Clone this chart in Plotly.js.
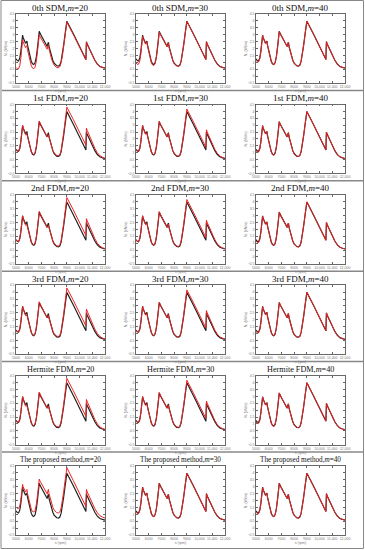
<!DOCTYPE html>
<html>
<head>
<meta charset="utf-8">
<script src="https://cdn.plot.ly/plotly-3.0.1.min.js"></script>
<style>html,body{margin:0;padding:0;background:#fff;}#chart{width:365px;height:550px;}</style>
</head>
<body>
<div id="chart"></div>
<script>
const rowNames = ["0th SDM", "1st FDM", "2nd FDM", "3rd FDM", "Hermite FDM", "The proposed method"];
const mValues = [20, 30, 40];
const xTickVals = [5000, 6000, 7000, 8000, 9000, 10000, 11000, 12000];
const xTickText = ["5000", "6000", "7000", "8000", "9000", "10,000", "11,000", "12,000"];

const xRpm = [5000,5100,5200,5300,5380,5450,5520,5560,5650,5750,5800,5860,5900,6000,6100,6200,6300,6400,6500,6600,6700,6780,6830,6900,7000,7200,7400,7450,7500,7550,7600,7700,7800,7900,8000,8200,8340,8450,8550,8650,8750,8850,8950,9000,9500,10000,10500,10520,10540,10600,10800,11000,11200,11400,11600,11800,12000];

const yReference = [1.25,1.13,1.10,1.32,1.79,2.38,2.97,2.80,2.61,2.38,2.45,2.54,2.26,1.79,1.39,1.08,0.89,0.84,0.96,1.39,2.14,2.80,3.25,3.08,2.90,2.57,2.19,2.14,2.33,2.45,2.14,1.72,1.39,1.13,0.94,0.75,0.73,0.80,1.08,1.55,2.26,2.97,3.67,3.98,3.08,2.14,1.20,1.91,2.49,2.33,1.91,1.50,1.15,0.87,0.70,0.63,0.58];

const red0th20 = [0.63,0.53,0.52,0.77,1.29,1.96,2.64,2.48,2.29,2.06,2.13,2.21,1.93,1.46,1.07,0.76,0.58,0.53,0.65,1.09,1.86,2.54,3.01,2.85,2.68,2.36,1.99,1.95,2.14,2.27,1.96,1.55,1.23,0.98,0.80,0.62,0.61,0.69,0.98,1.46,2.18,2.89,3.60,3.91,3.03,2.10,1.17,1.88,2.46,2.30,1.89,1.48,1.14,0.86,0.70,0.63,0.58];

const red0th30 = [0.95,0.85,0.86,1.10,1.60,2.24,2.88,2.73,2.55,2.32,2.40,2.49,2.21,1.73,1.32,1.00,0.81,0.77,0.89,1.33,2.09,2.76,3.21,3.05,2.87,2.54,2.16,2.11,2.30,2.42,2.11,1.70,1.37,1.11,0.92,0.73,0.71,0.78,1.06,1.54,2.25,2.96,3.66,3.97,3.07,2.14,1.20,1.91,2.49,2.33,1.91,1.50,1.15,0.87,0.70,0.63,0.58];

const redClose = [1.15,1.05,1.04,1.27,1.75,2.35,2.95,2.79,2.60,2.37,2.44,2.53,2.25,1.78,1.38,1.06,0.87,0.82,0.95,1.38,2.13,2.79,3.24,3.08,2.90,2.57,2.19,2.14,2.33,2.45,2.14,1.72,1.39,1.13,0.94,0.75,0.73,0.80,1.08,1.55,2.26,2.97,3.67,3.99,3.09,2.15,1.21,1.92,2.50,2.34,1.92,1.50,1.15,0.87,0.70,0.63,0.58];

const redFdm20 = [1.22,1.12,1.10,1.33,1.80,2.40,2.98,2.80,2.55,2.30,2.30,2.32,2.18,1.78,1.40,1.10,0.92,0.88,1.00,1.43,2.20,2.86,3.30,3.14,2.96,2.62,2.22,2.14,2.22,2.30,2.12,1.74,1.42,1.17,0.99,0.80,0.79,0.87,1.17,1.67,2.42,3.18,3.95,4.30,3.42,2.50,1.55,2.15,2.77,2.62,2.18,1.72,1.32,1.00,0.78,0.67,0.60];

const redFdm30 = [1.24,1.12,1.10,1.32,1.79,2.39,2.98,2.80,2.58,2.34,2.38,2.44,2.22,1.78,1.39,1.09,0.90,0.86,0.98,1.41,2.17,2.83,3.28,3.11,2.93,2.60,2.21,2.14,2.28,2.38,2.13,1.73,1.41,1.15,0.97,0.78,0.76,0.84,1.13,1.62,2.35,3.08,3.83,4.16,3.27,2.34,1.39,2.05,2.66,2.50,2.07,1.63,1.25,0.95,0.75,0.66,0.60];

const redProp20 = [1.53,1.43,1.42,1.62,2.05,2.60,3.16,3.00,2.83,2.62,2.70,2.80,2.52,2.07,1.68,1.38,1.20,1.16,1.28,1.70,2.44,3.10,3.55,3.39,3.22,2.90,2.53,2.48,2.67,2.80,2.49,2.08,1.75,1.50,1.31,1.12,1.10,1.17,1.45,1.92,2.64,3.36,4.06,4.38,3.46,2.52,1.56,2.24,2.80,2.63,2.20,1.78,1.41,1.11,0.90,0.80,0.72];

const redByPanel = [
  [red0th20, red0th30, redClose],
  [redFdm20, redFdm30, redClose],
  [redFdm20, redFdm30, redClose],
  [redFdm20, redFdm30, redClose],
  [redFdm20, redFdm30, redClose],
  [redProp20, redClose, redClose]
];

const W = 365, H = 550;
const colLeft = [16, 136, 256], plotW = 89;
const rowStep = 90.4, rowTop0 = 14, plotH = 69;
const titleSize = [9, 9, 9, 9, 8.2, 7.2];

const traces = [];
const layout = {
  width: W, height: H,
  margin: {l: 0, r: 0, t: 0, b: 0},
  paper_bgcolor: "#fff", plot_bgcolor: "#fff",
  showlegend: false,
  annotations: [], shapes: []
};

for (let r = 0; r < 6; r++) {
  for (let c = 0; c < 3; c++) {
    const i = r * 3 + c;
    const n = i + 1;
    const xa = "x" + (n === 1 ? "" : n), ya = "y" + (n === 1 ? "" : n);
    const xk = "xaxis" + (n === 1 ? "" : n), yk = "yaxis" + (n === 1 ? "" : n);
    const top = rowTop0 + rowStep * r;
    const left = colLeft[c];
    traces.push({x: xRpm, y: yReference, xaxis: xa, yaxis: ya, type: "scatter", mode: "lines",
      line: {color: "#222", width: 1.2}, hoverinfo: "skip"});
    traces.push({x: xRpm, y: redByPanel[r][c], xaxis: xa, yaxis: ya, type: "scatter", mode: "lines",
      line: {color: "#ee2222", width: 1.0}, hoverinfo: "skip"});
    layout[xk] = {
      domain: [left / W, (left + plotW) / W], anchor: ya,
      range: [5000, 12000], tickvals: xTickVals, ticktext: xTickText,
      tickfont: {size: 3.5, color: "#777", family: "Liberation Sans"},
      ticks: "inside", ticklen: 2, tickcolor: "#666", mirror: "ticks",
      showline: true, linecolor: "#444", linewidth: 0.8, showgrid: false, zeroline: false,
      title: {text: "n (rpm)", font: {size: 3.5, color: "#777", family: "Liberation Sans"}, standoff: 0}
    };
    layout[yk] = {
      domain: [1 - (top + plotH) / H, 1 - top / H], anchor: xa,
      range: [-0.5, 4.5], dtick: 0.5,
      tickfont: {size: 3.5, color: "#777", family: "Liberation Sans"},
      ticks: "inside", ticklen: 2, tickcolor: "#666", mirror: "ticks",
      showline: true, linecolor: "#444", linewidth: 0.8, showgrid: false, zeroline: false,
      title: {text: "N<sub>y</sub> (kN/m)", font: {size: 3.5, color: "#777", family: "Liberation Sans"}, standoff: 0}
    };
    layout.annotations.push({
      xref: "paper", yref: "paper", x: (left + plotW / 2) / W, y: 1 - (top - 6.5) / H,
      xanchor: "center", yanchor: "middle", showarrow: false,
      text: rowNames[r] + ",<i>m</i>=" + mValues[c],
      font: {family: "Liberation Serif", size: titleSize[r], color: "#111"}
    });
  }
}
for (let r = 1; r < 6; r++) {
  const y = 1 - (rowStep * r) / H;
  layout.shapes.push({type: "line", xref: "paper", yref: "paper", x0: 2 / W, x1: 363 / W, y0: y, y1: y,
    line: {color: "#888", width: 1.5}});
}
layout.shapes.push({type: "rect", xref: "paper", yref: "paper", x0: 1 / W, x1: 363.5 / W, y0: 1.5 / H, y1: 1 - 0.5 / H,
  line: {color: "#888", width: 1}});

Plotly.newPlot("chart", traces, layout, {staticPlot: true, displayModeBar: false});
</script>
</body>
</html>
